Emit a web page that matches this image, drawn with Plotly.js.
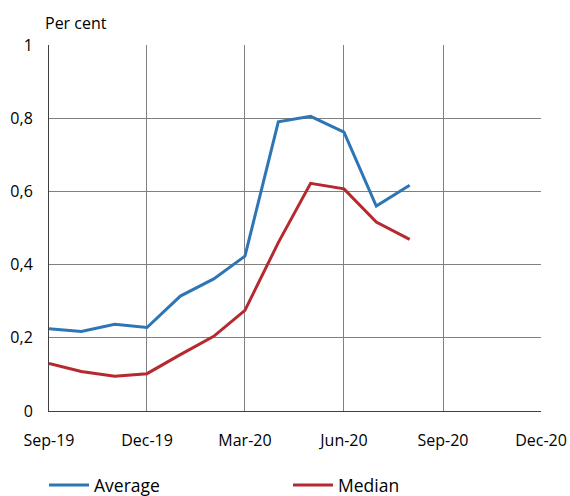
<!DOCTYPE html>
<html><head><meta charset="utf-8">
<script src="https://cdn.plot.ly/plotly-3.0.1.min.js"></script>
<style>body{margin:0;padding:0;background:#fff}#chart{width:570px;height:496px}</style>
</head><body><div id="chart"></div>
<script>
var months = ["2019-09-01","2019-10-01","2019-11-01","2019-12-01","2020-01-01","2020-02-01","2020-03-01","2020-04-01","2020-05-01","2020-06-01","2020-07-01","2020-08-01"];
var average = [0.225,0.217,0.237,0.228,0.314,0.361,0.423,0.790,0.805,0.762,0.560,0.617];
var median = [0.130,0.108,0.095,0.102,0.154,0.204,0.275,0.460,0.622,0.607,0.516,0.469];
var tickDates = ["2019-09-01","2019-12-01","2020-03-01","2020-06-01","2020-09-01","2020-12-01"];
var tickLabels = ["Sep-19","Dec-19","Mar-20","Jun-20","Sep-20","Dec-20"];
var yTicks = [0,0.2,0.4,0.6,0.8,1];
var yLabels = ["0","0,2","0,4","0,6","0,8","1"];

var font = "Open Sans, Liberation Sans, sans-serif";
var traces = [
 {x:months,y:average,type:"scatter",mode:"lines",name:"Average",legend:"legend",line:{color:"#2E75B6",width:3}},
 {x:months,y:median,type:"scatter",mode:"lines",name:"Median",legend:"legend2",line:{color:"#B5292F",width:3}}
];
var legStyle = function(xp){
  return {orientation:"h",xref:"container",yref:"container",x:xp,xanchor:"left",y:0.022,yanchor:"middle",
    font:{size:17.5},itemwidth:40,bgcolor:"rgba(0,0,0,0)",borderwidth:0};
};
var layout = {
 width:570,height:496,
 margin:{l:49,r:29,t:45,b:85},
 paper_bgcolor:"#fff",plot_bgcolor:"#fff",
 font:{family:font,size:16,color:"#000"},
 showlegend:true,
 legend:legStyle(44/570),
 legend2:legStyle(288/570),
 xaxis:{type:"date",range:["2019-09-01","2020-12-01"],tickvals:tickDates,ticktext:tickLabels,
   showgrid:true,gridcolor:"#808080",gridwidth:1,showline:true,linecolor:"#404040",linewidth:1,mirror:false,
   ticks:"outside",ticklen:15,tickcolor:"rgba(0,0,0,0)",tickfont:{size:16},zeroline:false,fixedrange:true},
 yaxis:{range:[0,1],tickvals:yTicks,ticktext:yLabels,showgrid:true,gridcolor:"#808080",gridwidth:1,
   showline:true,linecolor:"#404040",linewidth:1,ticks:"outside",ticklen:12,tickcolor:"rgba(0,0,0,0)",tickfont:{size:16},zeroline:false,fixedrange:true},
 annotations:[{text:"Per cent",xref:"paper",yref:"paper",x:-0.012,y:1.06,xanchor:"left",yanchor:"middle",showarrow:false,font:{size:16}}]
};
Plotly.newPlot("chart",traces,layout,{staticPlot:true});
</script></body></html>
